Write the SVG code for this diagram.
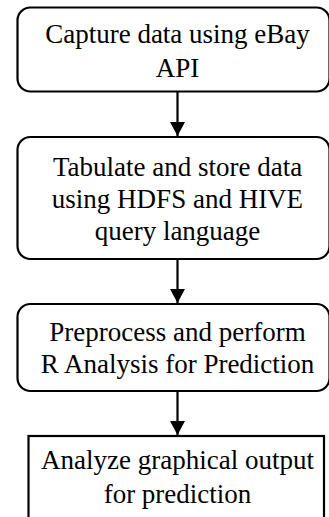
<svg xmlns="http://www.w3.org/2000/svg" width="329" height="517" viewBox="0 0 329 517">
<defs>
<style>
.box{fill:#fff;stroke:#000;stroke-width:2.2}
.t{font-size:27px;fill:#000;text-anchor:middle}
.c{stroke:#000;stroke-width:2.2;fill:none}
</style>
<marker id="ah" markerUnits="userSpaceOnUse" markerWidth="16" markerHeight="15" refX="14" refY="7.5" orient="auto">
<path d="M0,0 L14,7.5 L0,15 Z" fill="#000"/>
</marker>
</defs>
<g id="connectors">
<line class="c" x1="177.5" y1="92" x2="177.5" y2="136" marker-end="url(#ah)"/>
<line class="c" x1="177.5" y1="259" x2="177.5" y2="303" marker-end="url(#ah)"/>
<line class="c" x1="177.5" y1="391" x2="177.5" y2="435" marker-end="url(#ah)"/>
</g>
<g id="n1">
<rect class="box" x="17.5" y="7.5" width="312" height="84" rx="13"/>
<text class="t" font-family="'Liberation Serif', 'Times New Roman', serif" x="177.5" y="43">Capture data using eBay</text>
<text class="t" font-family="'Liberation Serif', 'Times New Roman', serif" x="177.5" y="77">API</text>
</g>
<g id="n2">
<rect class="box" x="17.5" y="137" width="312" height="122" rx="13"/>
<text class="t" font-family="'Liberation Serif', 'Times New Roman', serif" x="177.5" y="176">Tabulate and store data</text>
<text class="t" font-family="'Liberation Serif', 'Times New Roman', serif" x="177.5" y="208">using HDFS and HIVE</text>
<text class="t" font-family="'Liberation Serif', 'Times New Roman', serif" x="177.5" y="240">query language</text>
</g>
<g id="n3">
<rect class="box" x="17.5" y="304" width="312" height="87" rx="13"/>
<text class="t" font-family="'Liberation Serif', 'Times New Roman', serif" x="177.5" y="341">Preprocess and perform</text>
<text class="t" font-family="'Liberation Serif', 'Times New Roman', serif" x="177.5" y="373">R Analysis for Prediction</text>
</g>
<g id="n4">
<rect class="box" x="28.5" y="436" width="295.5" height="90"/>
<text class="t" font-family="'Liberation Serif', 'Times New Roman', serif" x="177.5" y="469">Analyze graphical output</text>
<text class="t" font-family="'Liberation Serif', 'Times New Roman', serif" x="177.5" y="503">for prediction</text>
</g>
</svg>
